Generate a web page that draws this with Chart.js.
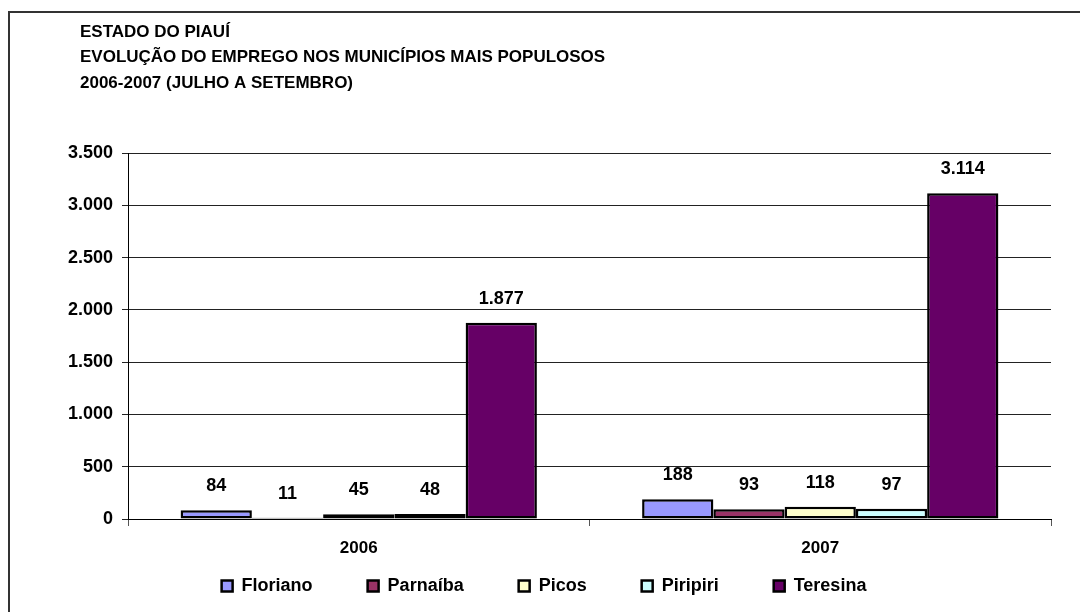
<!DOCTYPE html>
<html lang="pt-BR">
<head>
<meta charset="utf-8">
<title>Evolução do emprego - Piauí</title>
<script src="https://cdn.jsdelivr.net/npm/chart.js@4.4.1/dist/chart.umd.min.js"></script>
<style>
    html, body { margin: 0; padding: 0; background: #fff; }
    #wrap { width: 1080px; height: 612px; position: relative; }
</style>
</head>
<body>
<div id="wrap"><canvas id="chart" width="1080" height="612"></canvas></div>
<script>
const TITLE_LINES = [
    'ESTADO DO PIAUÍ',
    'EVOLUÇÃO DO EMPREGO NOS MUNICÍPIOS MAIS POPULOSOS',
    '2006-2007 (JULHO A SETEMBRO)',
];
const YEARS     = ['2006', '2007'];
const FLORIANO  = [84, 188];
const PARNAIBA  = [11, 93];
const PICOS     = [45, 118];
const PIRIPIRI  = [48, 97];
const TERESINA  = [1877, 3114];
const Y_MAX  = 3500;
const Y_STEP = 500;

const FONT = '"Liberation Sans", Arial, sans-serif';
const LEGEND_PAD = 55;
const LEGEND_ROW_Y = 586;

// 3.500 style thousands separator
function fmt(v) {
    return String(v).replace(/\B(?=(\d{3})+(?!\d))/g, '.');
}

function makeDataset(label, values, color) {
    return {
        label,
        data: values,
        backgroundColor: color,
        borderColor: '#000',
        borderWidth: 2.5,
        borderSkipped: false,
        barPercentage: 1.0,
        categoryPercentage: 0.772,
    };
}

// frame + three-line heading
const framePlugin = {
    id: 'frame',
    beforeDraw(chart) {
        const c = chart.ctx;
        c.save();
        c.fillStyle = '#fff';
        c.fillRect(0, 0, chart.width, chart.height);
        c.strokeStyle = '#333';
        c.lineWidth = 2;
        c.strokeRect(9, 12, chart.width + 20, chart.height + 20);
        c.fillStyle = '#000';
        c.font = 'bold 17px ' + FONT;
        c.textAlign = 'left';
        c.textBaseline = 'middle';
        TITLE_LINES.forEach((line, i) => c.fillText(line, 80, 32 + i * 25.5));
        c.restore();
    },
};

// the wide legend padding spaces the items apart; move the box so the
// row sits just under the year labels (the legend clips to its own box)
const legendShift = {
    id: 'legendShift',
    afterLayout(chart) {
        const lg = chart.legend;
        lg.top = LEGEND_ROW_Y - LEGEND_PAD - 9;
        lg.bottom = chart.height;
        lg.height = lg.bottom - lg.top;
    },
};

// value labels above each bar
const valueLabels = {
    id: 'valueLabels',
    afterDatasetsDraw(chart) {
        const c = chart.ctx;
        c.save();
        c.fillStyle = '#000';
        c.font = 'bold 18px ' + FONT;
        c.textAlign = 'center';
        c.textBaseline = 'middle';
        chart.data.datasets.forEach((ds, i) => {
            chart.getDatasetMeta(i).data.forEach((bar, j) => {
                c.fillText(fmt(ds.data[j]), bar.x, bar.y - 24);
            });
        });
        c.restore();
    },
};

new Chart(document.getElementById('chart'), {
    type: 'bar',
    data: {
        labels: YEARS,
        datasets: [
            makeDataset('Floriano', FLORIANO, '#9999ff'),
            makeDataset('Parnaíba', PARNAIBA, '#993366'),
            makeDataset('Picos',    PICOS,    '#ffffcc'),
            makeDataset('Piripiri', PIRIPIRI, '#ccffff'),
            makeDataset('Teresina', TERESINA, '#660066'),
        ],
    },
    options: {
        responsive: false,
        animation: false,
        layout: { padding: { left: 8, right: 0, top: 153, bottom: 0 } },
        plugins: {
            title: { display: false },
            tooltip: { enabled: false },
            legend: {
                position: 'bottom',
                maxHeight: 53,
                labels: {
                    color: '#000',
                    boxWidth: 11,
                    boxHeight: 11,
                    padding: LEGEND_PAD,
                    font: { family: FONT, size: 18, weight: 'bold' },
                },
            },
        },
        scales: {
            x: {
                grid: { drawOnChartArea: false, tickLength: 7, color: '#555' },
                border: { display: true, color: '#000' },
                ticks: { color: '#000', padding: 12, font: { family: FONT, size: 17, weight: 'bold' } },
                afterFit: s => { s.height = 40; },
            },
            y: {
                min: 0,
                max: Y_MAX,
                grid: { color: '#222', tickLength: 6 },
                border: { display: true, color: '#000' },
                ticks: {
                    stepSize: Y_STEP,
                    color: '#000',
                    padding: 9,
                    font: { family: FONT, size: 18, weight: 'bold' },
                    callback: v => fmt(v),
                },
                afterFit: s => { s.width = 120; },
            },
            // empty right-hand axis that only reserves the right margin
            y2: {
                position: 'right',
                display: true,
                grid: { display: false },
                border: { display: false },
                ticks: { display: false },
                afterFit: s => { s.width = 29; },
            },
        },
    },
    plugins: [framePlugin, legendShift, valueLabels],
});
</script>
</body>
</html>
